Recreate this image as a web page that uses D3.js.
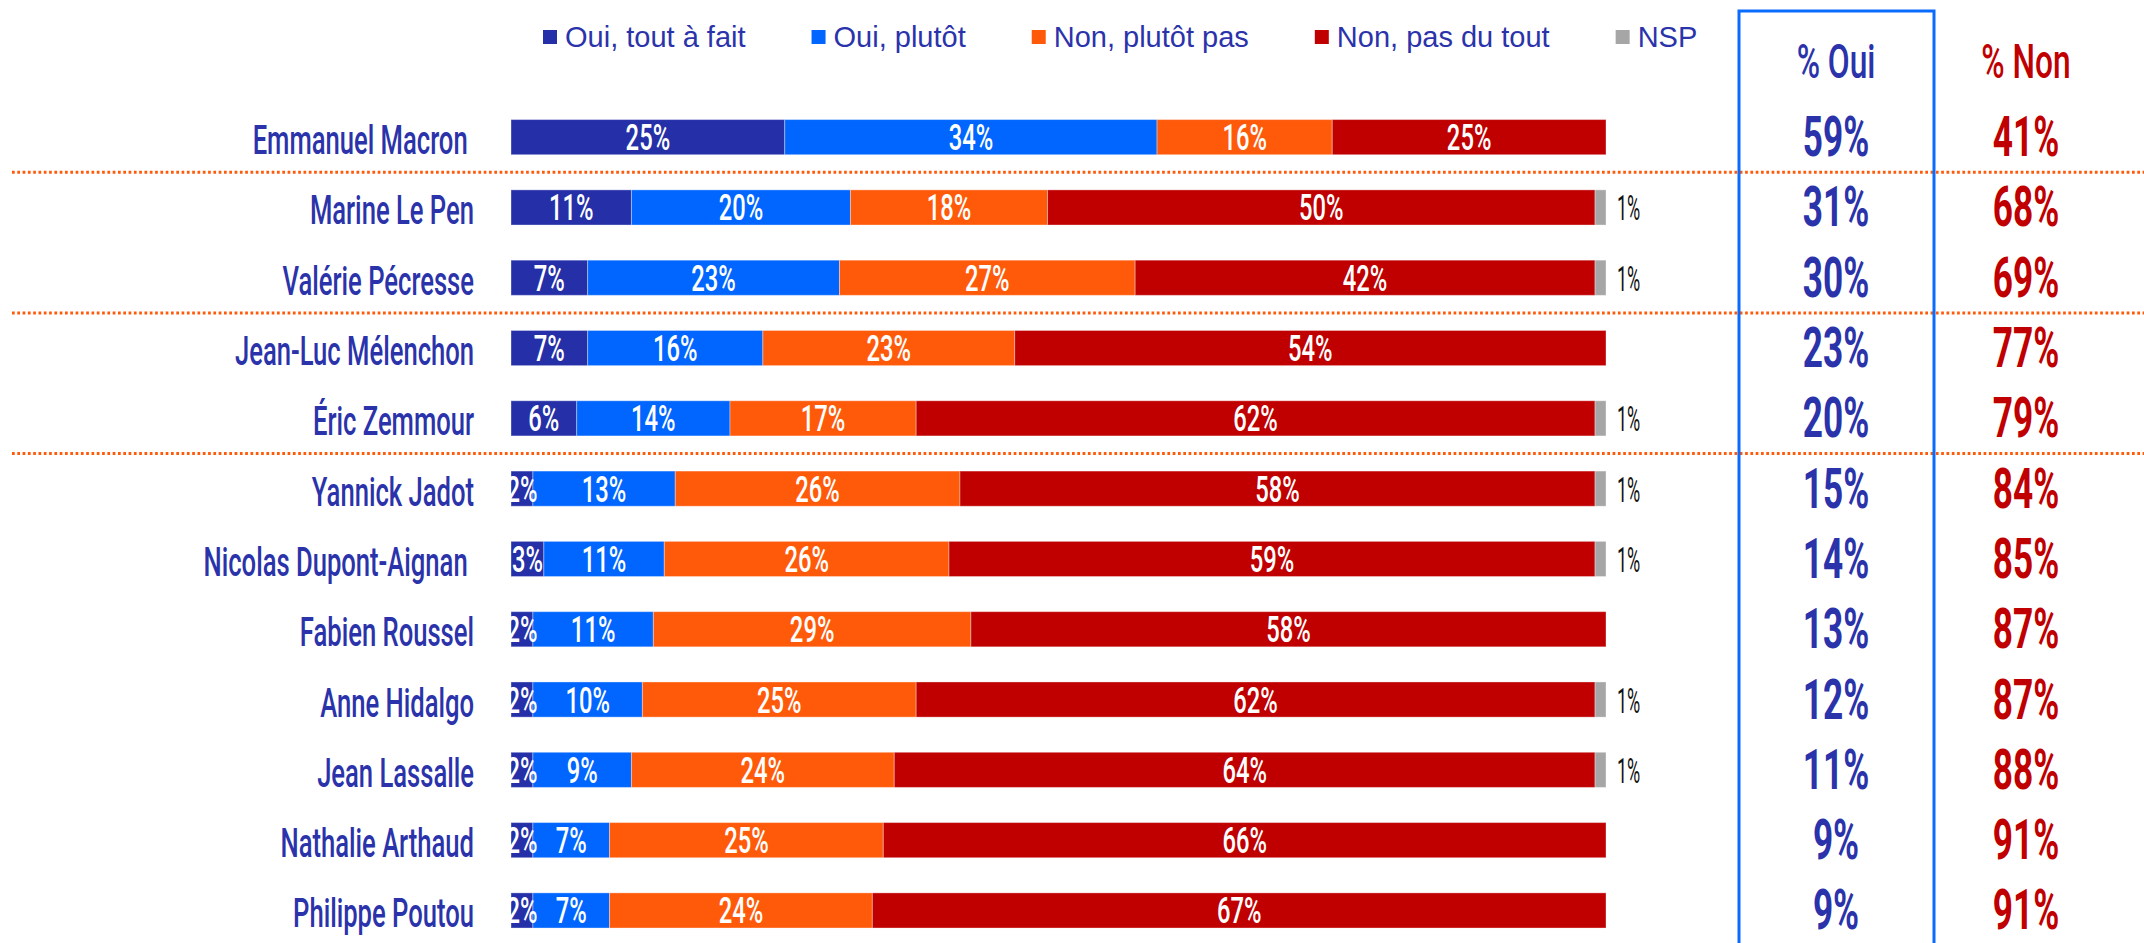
<!DOCTYPE html>
<html>
<head>
<meta charset="utf-8">
<script src="https://cdn.jsdelivr.net/npm/d3@7"></script>
<style>
  html, body { margin: 0; padding: 0; background: #fff; }
  svg { display: block; }
  text { white-space: pre; }
</style>
</head>
<body>
<script>
// ---- DATA ----
const candidates = ["Emmanuel Macron ", "Marine Le Pen", "Valérie Pécresse", "Jean-Luc Mélenchon", "Éric Zemmour",
  "Yannick Jadot", "Nicolas Dupont-Aignan ", "Fabien Roussel", "Anne Hidalgo", "Jean Lassalle",
  "Nathalie Arthaud", "Philippe Poutou"];
const seriesNames = ["Oui, tout à fait", "Oui, plutôt", "Non, plutôt pas", "Non, pas du tout", "NSP"];
const ouiToutAFait = [25, 11, 7, 7, 6, 2, 3, 2, 2, 2, 2, 2];
const ouiPlutot    = [34, 20, 23, 16, 14, 13, 11, 11, 10, 9, 7, 7];
const nonPlutotPas = [16, 18, 27, 23, 17, 26, 26, 29, 25, 24, 25, 24];
const nonPasDuTout = [25, 50, 42, 54, 62, 58, 59, 58, 62, 64, 66, 67];
const nsp          = [0, 1, 1, 0, 1, 1, 1, 0, 1, 1, 0, 0];
const pctOui = [59, 31, 30, 23, 20, 15, 14, 13, 12, 11, 9, 9];
const pctNon = [41, 68, 69, 77, 79, 84, 85, 87, 87, 88, 91, 91];
const separatorsAfter = [0, 2, 4];
const headers = ["% Oui", "% Non"];

// ---- STYLE ----
const colors = ["#2530A8", "#0066FF", "#FF5A0A", "#C00000", "#A6A6A6"];
const textBlue = "#2B33AB";
const textRed = "#C00000";
const W = 2144, H = 943;

const svg = d3.select("body").append("svg").attr("width", W).attr("height", H);

const keys = ["a", "b", "c", "d", "e"];
const rows = candidates.map((c, i) => ({
  name: c, a: ouiToutAFait[i], b: ouiPlutot[i], c: nonPlutotPas[i], d: nonPasDuTout[i], e: nsp[i],
  oui: pctOui[i], non: pctNon[i]
}));
const stack = d3.stack().keys(keys)(rows);

const x = d3.scaleLinear().domain([0, 100]).range([511, 1606]);
const y = d3.scaleBand().domain(candidates).range([102, 945.6]).paddingInner(0.5).paddingOuter(0.25);
const step = y.step();
const cy = name => y(name) + y.bandwidth() / 2;

// condensed text helper
function ctext(g, px, py, str, o) {
  return g.append("text")
    .attr("transform", `translate(${px},${py}) scale(${o.sx},1)`)
    .attr("text-anchor", o.anchor || "middle")
    .attr("font-family", o.family || "Roboto")
    .attr("font-weight", o.weight || 400)
    .attr("font-size", o.size)
    .attr("fill", o.fill)
    .text(str);
}

// separators
separatorsAfter.forEach(i => {
  const yy = cy(candidates[i]) + step / 2;
  svg.append("line").attr("x1", 12).attr("x2", W).attr("y1", yy).attr("y2", yy)
    .attr("stroke", "#FF5A0A").attr("stroke-width", 3).attr("stroke-dasharray", "2.7 2.6");
});

// bars
const barG = svg.append("g");
stack.forEach((layer, k) => {
  barG.selectAll(null).data(layer.filter(d => d[1] > d[0])).enter().append("rect")
    .attr("x", d => x(d[0]))
    .attr("width", d => x(d[1]) - x(d[0]))
    .attr("y", d => y(d.data.name))
    .attr("height", y.bandwidth())
    .attr("fill", colors[k])
    .attr("stroke", "rgba(255,255,255,0.35)")
    .attr("stroke-width", 1);
});

// bar labels (clipped at bar start)
svg.append("clipPath").attr("id", "clipL").append("rect")
  .attr("x", x(0)).attr("y", 0).attr("width", W).attr("height", H);
const labG = svg.append("g").attr("clip-path", "url(#clipL)");
stack.slice(0, 4).forEach(layer => {
  layer.forEach(d => {
    if (d[1] - d[0] <= 0) return;
    ctext(labG, x((d[0] + d[1]) / 2), cy(d.data.name) + 13, (d[1] - d[0]) + "%",
      { sx: 0.66, size: 36, fill: "#fff", weight: 500 });
  });
});
// NSP labels outside
stack[4].forEach(d => {
  if (d[1] - d[0] <= 0) return;
  ctext(svg, x(100) + 11, cy(d.data.name) + 13, (d[1] - d[0]) + "%",
    { sx: 0.5, size: 36, fill: "#111", weight: 400, anchor: "start" });
});

// candidate names
candidates.forEach(c => {
  ctext(svg, 474, cy(c) + 17, c, { sx: 0.64, size: 40, fill: textBlue, weight: 500, anchor: "end" });
});

// legend
const legG = svg.append("g");
let lx = 543;
seriesNames.forEach((s, k) => {
  legG.append("rect").attr("x", lx).attr("y", 30).attr("width", 14).attr("height", 14).attr("fill", colors[k]);
  const t = legG.append("text").attr("x", lx + 22).attr("y", 47)
    .attr("font-family", "Liberation Sans, Arial, sans-serif").attr("font-size", 29)
    .attr("fill", textBlue).text(s);
  lx = lx + 22 + t.node().getComputedTextLength() + 66;
});

// % Oui box
svg.append("rect").attr("x", 1739).attr("y", 11).attr("width", 195).attr("height", H + 20)
  .attr("fill", "none").attr("stroke", "#0A6BFF").attr("stroke-width", 3);

const colX = [1836, 2026];
ctext(svg, colX[0], 78, headers[0], { sx: 0.66, size: 48, fill: textBlue, weight: 500 });
ctext(svg, colX[1], 78, headers[1], { sx: 0.66, size: 48, fill: textRed, weight: 500 });
rows.forEach(r => {
  ctext(svg, colX[0], cy(r.name) + 19, r.oui + "%", { sx: 0.64, size: 55, fill: textBlue, weight: 700 });
  ctext(svg, colX[1], cy(r.name) + 19, r.non + "%", { sx: 0.64, size: 55, fill: textRed, weight: 700 });
});
</script>
</body>
</html>
